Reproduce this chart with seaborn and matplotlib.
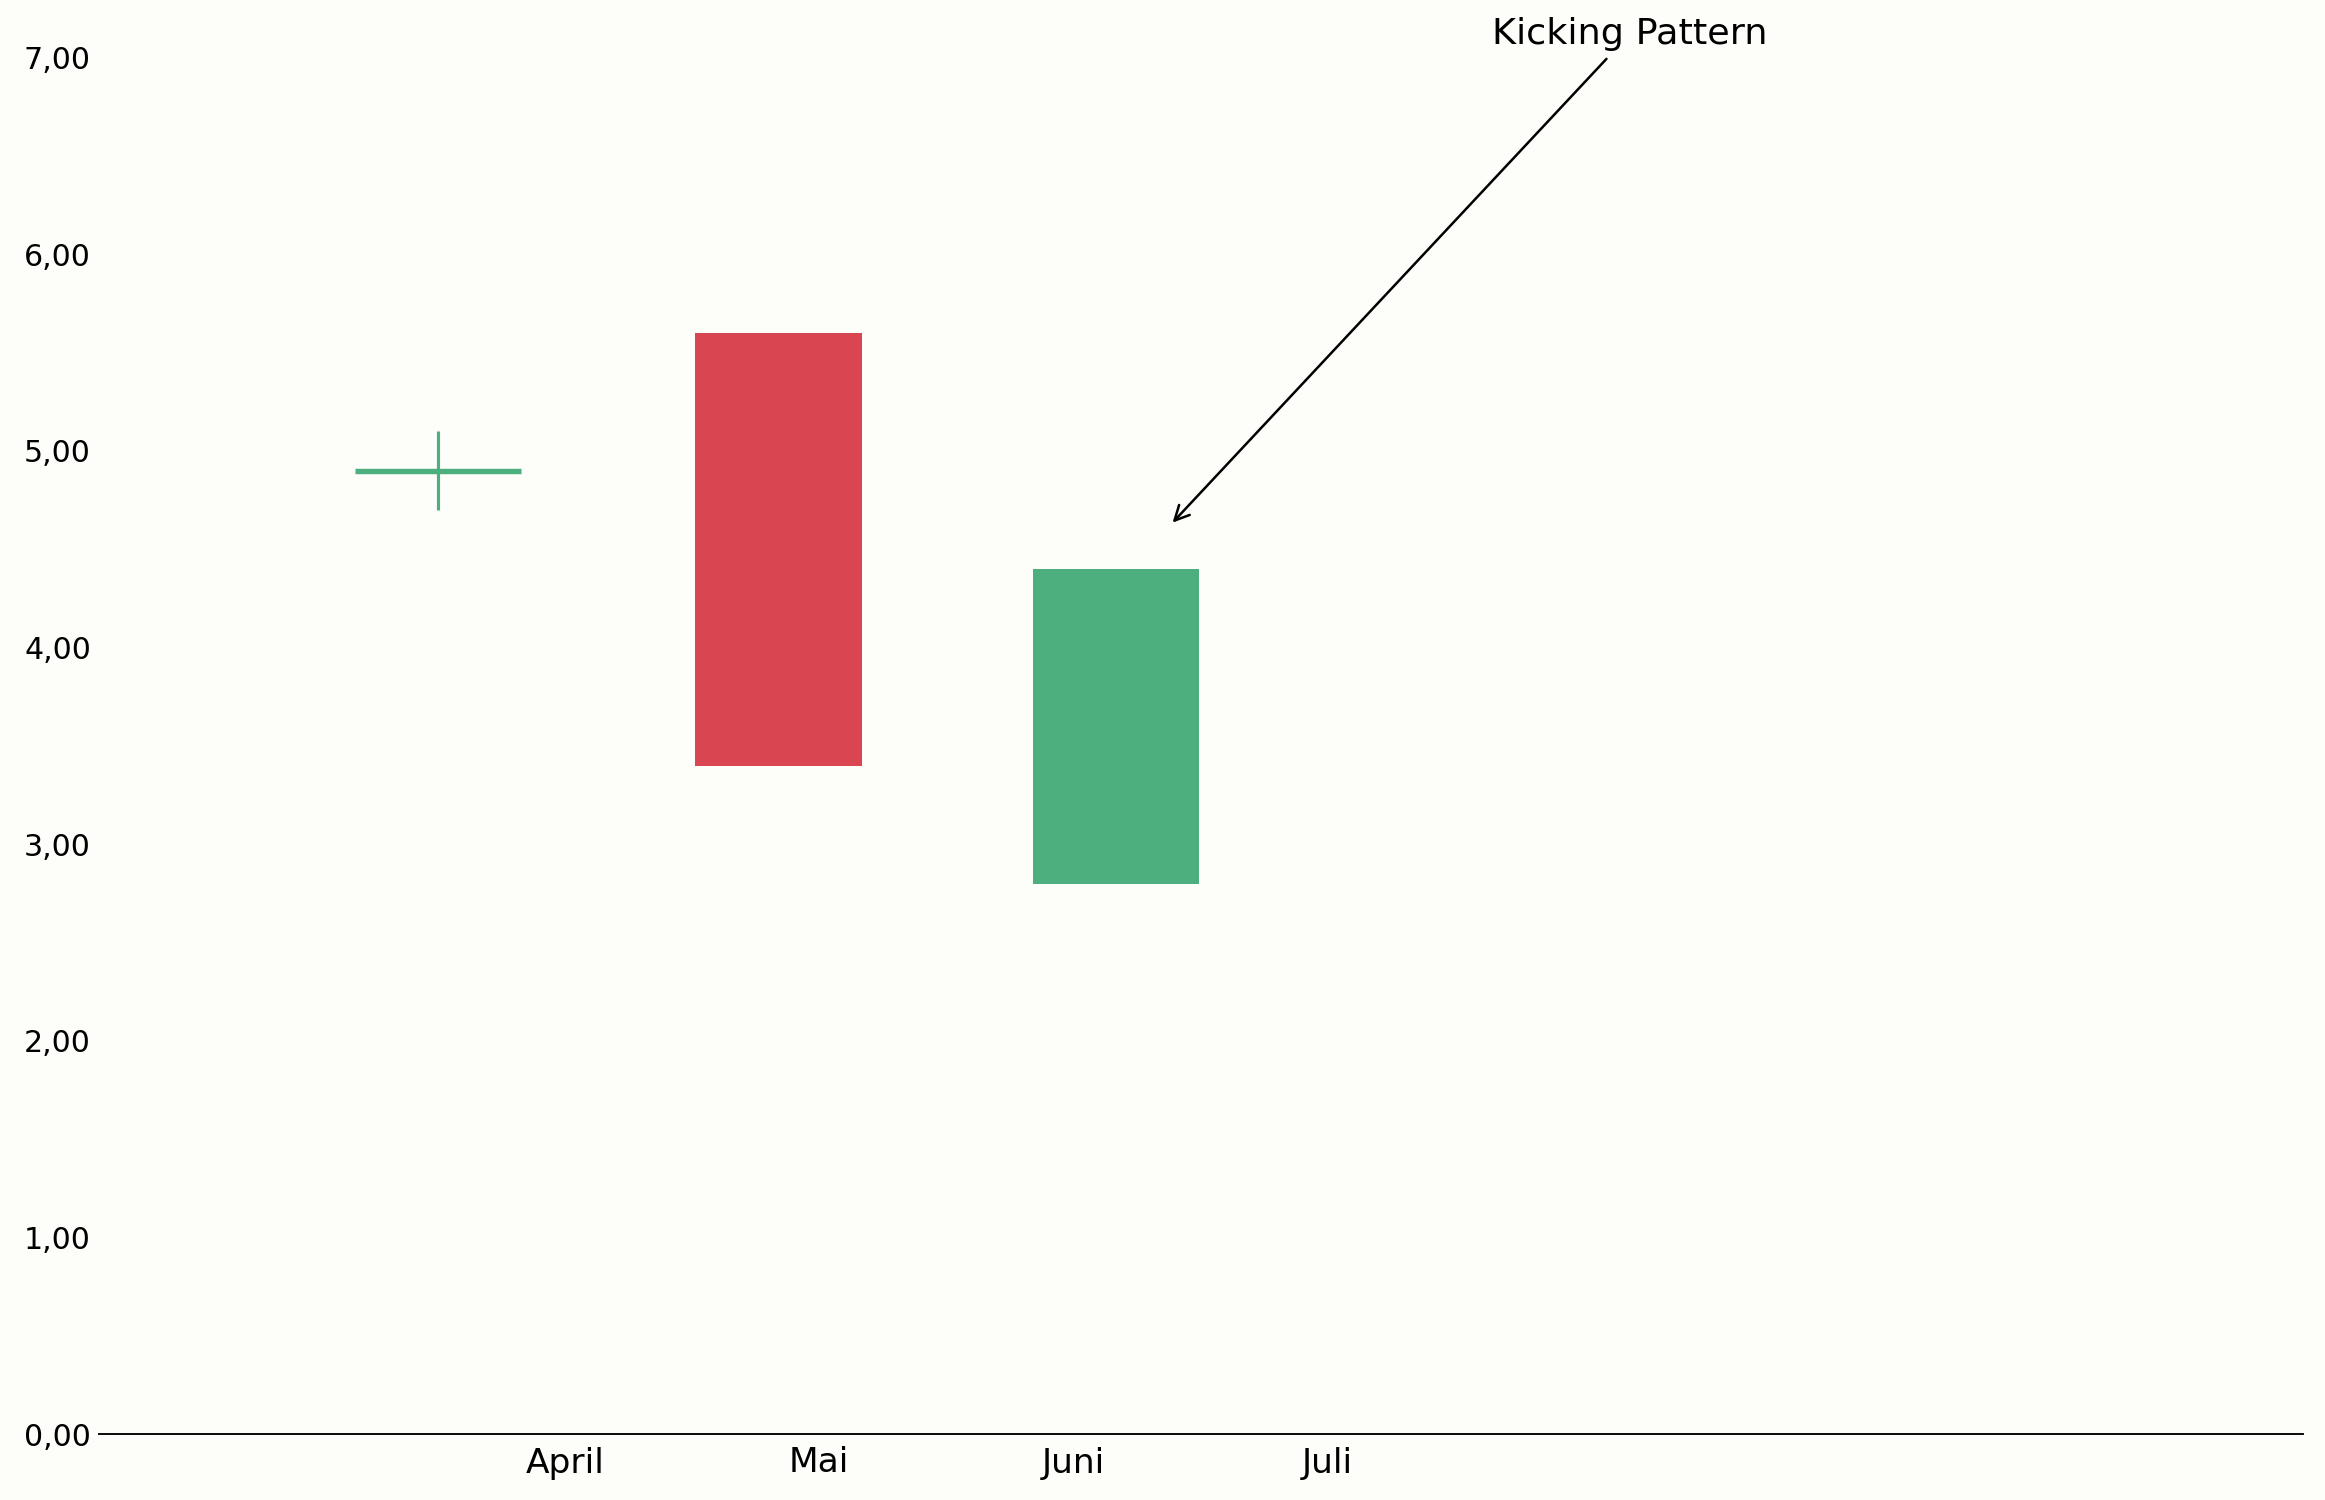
import matplotlib
matplotlib.use('Agg')
import matplotlib.pyplot as plt
import seaborn as sns
from matplotlib.ticker import FuncFormatter

# candle data (x in month units, April = 1)
candle_x = [0.5, 1.84, 3.17]
opens = [4.9, 5.6, 2.8]
closes = [4.9, 3.4, 4.4]
highs = [5.1, 5.6, 4.4]
lows = [4.7, 3.4, 2.8]

month_pos = [1, 2, 3, 4]
month_labels = ['April', 'Mai', 'Juni', 'Juli']

arrow_tip = (3.38, 4.62)
label_pos = (5.19, 7.12)

bg = '#fdfdf9'
up_color = '#4caf7d'
down_color = '#d94652'

sns.set_style('white', {'axes.facecolor': bg, 'figure.facecolor': bg,
                        'text.color': 'black', 'xtick.color': 'black',
                        'ytick.color': 'black'})

fig = plt.figure(figsize=(15.5, 10), dpi=150)
ax = fig.add_axes([0.0427, 0.044, 0.9478, 0.9175])

width = 0.654
for x, o, c, h, l in zip(candle_x, opens, closes, highs, lows):
    col = up_color if c >= o else down_color
    if h > max(o, c) or l < min(o, c):
        ax.vlines(x, l, h, color=col, linewidth=1.5, zorder=2)
    if o == c:
        ax.hlines(o, x - width / 2, x + width / 2, color=col, linewidth=2.6, zorder=3)
    else:
        ax.bar(x, abs(c - o), bottom=min(o, c), width=width, color=col,
               linewidth=0, zorder=3)

ax.annotate('Kicking Pattern', xy=arrow_tip, xytext=label_pos,
            ha='center', va='center', fontsize=17.5, color='black',
            arrowprops=dict(arrowstyle='->', color='black', lw=1.2),
            annotation_clip=False)

ax.set_xlim(-0.833, 7.84)
ax.set_ylim(0, 7)
ax.set_xticks(month_pos)
ax.set_xticklabels(month_labels, fontsize=16.5)
ax.set_yticks(range(0, 8))
ax.yaxis.set_major_formatter(FuncFormatter(lambda v, p: f'{v:.2f}'.replace('.', ',')))
ax.tick_params(axis='y', labelsize=14.4, length=0, pad=4, labelcolor='black')
ax.tick_params(axis='x', length=0, pad=6, labelcolor='black')

sns.despine(ax=ax, left=True, top=True, right=True)
ax.spines['bottom'].set_color('black')
ax.spines['bottom'].set_linewidth(0.9)

fig.savefig('out.png', dpi=150, facecolor=bg)
